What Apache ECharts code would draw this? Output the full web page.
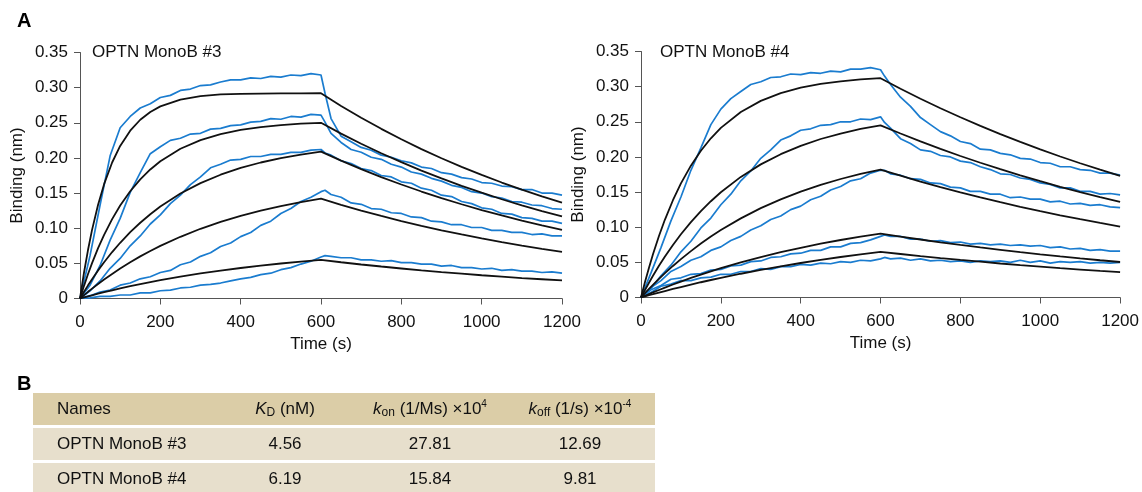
<!DOCTYPE html>
<html>
<head>
<meta charset="utf-8">
<script src="https://cdn.jsdelivr.net/npm/echarts@6/dist/echarts.min.js"></script>
<style>
  html, body { margin: 0; padding: 0; background: #fff; }
  #chart { width: 1142px; height: 492px; }
</style>
</head>
<body>
<div id="chart"></div>
<script>
// time points (s) for the fitted curves and for the measured traces
var fitT = [0,10,20,30,45,60,80,100,125,150,175,200,250,300,350,400,450,500,550,600,650,700,750,800,850,900,950,1000,1050,1100,1150,1200];
var measT = [0,25,50,75,100,125,150,175,200,225,250,275,300,325,350,375,400,425,450,475,500,525,550,575,600,610,625,650,675,700,725,750,775,800,825,850,875,900,925,950,975,1000,1025,1050,1075,1100,1125,1150,1175,1200];

// OPTN MonoB #3 - fits (black)
var leftFit1 = [0,0.037,0.0693,0.0976,0.1334,0.1627,0.1935,0.2171,0.2388,0.2543,0.2654,0.2733,0.283,0.2879,0.2904,0.2912,0.2916,0.2918,0.2919,0.292,0.274,0.2572,0.2414,0.2265,0.2126,0.1995,0.1873,0.1758,0.165,0.1548,0.1453,0.1364];
var leftFit2 = [0,0.018,0.0348,0.0503,0.0716,0.0906,0.1129,0.1322,0.1526,0.1695,0.1836,0.1953,0.2131,0.2254,0.2339,0.2398,0.2439,0.2467,0.2487,0.25,0.2346,0.2202,0.2067,0.194,0.182,0.1708,0.1603,0.1505,0.1412,0.1325,0.1244,0.1167];
var leftFit3 = [0,0.0096,0.0187,0.0275,0.04,0.0516,0.0661,0.0793,0.0943,0.1078,0.1199,0.1308,0.1493,0.1641,0.1761,0.1858,0.1935,0.1998,0.2048,0.209,0.1962,0.1841,0.1728,0.1622,0.1522,0.1428,0.1341,0.1258,0.1181,0.1108,0.104,0.0976];
var leftFit4 = [0,0.0048,0.0095,0.0141,0.0207,0.027,0.035,0.0426,0.0515,0.0599,0.0676,0.0748,0.0878,0.0992,0.109,0.1176,0.125,0.1315,0.1371,0.142,0.1333,0.1251,0.1174,0.1102,0.1034,0.097,0.0911,0.0855,0.0802,0.0753,0.0706,0.0663];
var leftFit5 = [0,0.0016,0.0031,0.0046,0.0068,0.009,0.0117,0.0143,0.0175,0.0205,0.0234,0.0261,0.0311,0.0356,0.0397,0.0434,0.0468,0.0498,0.0525,0.055,0.0516,0.0484,0.0455,0.0427,0.04,0.0376,0.0353,0.0331,0.0311,0.0291,0.0274,0.0257];

// OPTN MonoB #3 - measured (blue)
var leftMeas1 = [0,0.061,0.133,0.203,0.243,0.259,0.271,0.277,0.286,0.289,0.296,0.298,0.303,0.304,0.308,0.311,0.311,0.314,0.313,0.316,0.315,0.318,0.317,0.320,0.318,0.292,0.256,0.231,0.223,0.215,0.211,0.204,0.201,0.196,0.193,0.187,0.185,0.179,0.177,0.172,0.170,0.165,0.164,0.160,0.159,0.155,0.155,0.150,0.150,0.147];
var leftMeas2 = [0,0.019,0.047,0.083,0.114,0.151,0.179,0.206,0.216,0.225,0.228,0.234,0.235,0.241,0.242,0.246,0.247,0.251,0.252,0.256,0.255,0.259,0.258,0.262,0.261,0.251,0.235,0.222,0.212,0.208,0.201,0.198,0.191,0.187,0.180,0.177,0.171,0.167,0.161,0.158,0.152,0.150,0.145,0.143,0.138,0.137,0.133,0.132,0.128,0.127];
var leftMeas3 = [0,0.011,0.025,0.043,0.057,0.075,0.089,0.106,0.119,0.135,0.147,0.162,0.173,0.186,0.191,0.197,0.198,0.202,0.202,0.205,0.205,0.208,0.208,0.211,0.212,0.207,0.204,0.196,0.192,0.185,0.182,0.175,0.173,0.166,0.164,0.157,0.154,0.147,0.145,0.138,0.135,0.129,0.127,0.121,0.120,0.115,0.114,0.110,0.110,0.107];
var leftMeas4 = [0,0.004,0.009,0.012,0.019,0.022,0.028,0.031,0.037,0.040,0.048,0.052,0.060,0.065,0.074,0.079,0.088,0.094,0.104,0.110,0.121,0.128,0.138,0.144,0.152,0.154,0.148,0.144,0.136,0.134,0.128,0.127,0.122,0.121,0.116,0.115,0.110,0.109,0.105,0.105,0.101,0.101,0.097,0.097,0.094,0.094,0.091,0.092,0.089,0.089];
var leftMeas5 = [0,0.001,0.003,0.003,0.005,0.005,0.008,0.008,0.011,0.012,0.015,0.016,0.019,0.020,0.022,0.025,0.028,0.030,0.034,0.036,0.041,0.044,0.049,0.053,0.059,0.061,0.060,0.058,0.058,0.055,0.055,0.053,0.054,0.051,0.051,0.049,0.049,0.046,0.047,0.044,0.044,0.042,0.043,0.040,0.041,0.039,0.039,0.037,0.038,0.036];

// OPTN MonoB #4 - fits (black)
var rightFit1 = [0,0.022,0.0424,0.0614,0.0875,0.1109,0.1384,0.1623,0.1876,0.2088,0.2265,0.2413,0.2639,0.2797,0.2907,0.2985,0.3038,0.3076,0.3102,0.312,0.2971,0.2828,0.2693,0.2564,0.2441,0.2324,0.2213,0.2107,0.2006,0.191,0.1819,0.1732];
var rightFit2 = [0,0.0107,0.021,0.0309,0.0451,0.0583,0.0748,0.09,0.1073,0.1229,0.137,0.1497,0.1716,0.1894,0.2039,0.2158,0.2255,0.2333,0.2398,0.245,0.2333,0.2221,0.2115,0.2013,0.1917,0.1825,0.1738,0.1655,0.1575,0.15,0.1428,0.136];
var rightFit3 = [0,0.0062,0.0122,0.018,0.0265,0.0346,0.0449,0.0546,0.066,0.0767,0.0867,0.0959,0.1126,0.1272,0.1397,0.1507,0.1602,0.1686,0.1758,0.182,0.1733,0.165,0.1571,0.1496,0.1424,0.1356,0.1291,0.1229,0.117,0.1114,0.1061,0.101];
var rightFit4 = [0,0.0025,0.0049,0.0072,0.0107,0.0141,0.0185,0.0227,0.0278,0.0326,0.0372,0.0417,0.0499,0.0575,0.0644,0.0707,0.0765,0.0818,0.0866,0.091,0.0866,0.0825,0.0785,0.0748,0.0712,0.0678,0.0645,0.0614,0.0585,0.0557,0.053,0.0505];
var rightFit5 = [0,0.0016,0.0032,0.0047,0.007,0.0092,0.0121,0.0149,0.0184,0.0217,0.0249,0.0279,0.0338,0.0392,0.0443,0.0491,0.0535,0.0576,0.0614,0.065,0.0619,0.0589,0.0561,0.0534,0.0509,0.0484,0.0461,0.0439,0.0418,0.0398,0.0379,0.0361];

// OPTN MonoB #4 - measured (blue)
var rightMeas1 = [0,0.035,0.071,0.109,0.143,0.181,0.213,0.246,0.268,0.283,0.293,0.303,0.307,0.313,0.314,0.318,0.317,0.320,0.319,0.322,0.321,0.325,0.325,0.327,0.324,0.315,0.303,0.285,0.272,0.256,0.246,0.236,0.230,0.222,0.219,0.211,0.210,0.205,0.203,0.198,0.197,0.192,0.191,0.186,0.186,0.182,0.181,0.177,0.177,0.174];
var rightMeas2 = [0,0.013,0.031,0.046,0.065,0.080,0.099,0.113,0.132,0.147,0.166,0.180,0.198,0.210,0.224,0.230,0.238,0.240,0.245,0.246,0.250,0.250,0.254,0.253,0.257,0.249,0.241,0.226,0.219,0.210,0.208,0.202,0.200,0.194,0.192,0.186,0.182,0.176,0.175,0.170,0.168,0.163,0.161,0.156,0.156,0.151,0.151,0.147,0.148,0.146];
var rightMeas3 = [0,0.014,0.024,0.037,0.044,0.053,0.058,0.067,0.072,0.081,0.087,0.096,0.102,0.111,0.116,0.125,0.130,0.139,0.144,0.153,0.158,0.166,0.169,0.177,0.181,0.181,0.176,0.174,0.169,0.168,0.163,0.162,0.157,0.156,0.151,0.151,0.147,0.147,0.142,0.143,0.140,0.140,0.136,0.137,0.133,0.134,0.131,0.132,0.129,0.128];
var rightMeas4 = [0,0.011,0.017,0.026,0.028,0.033,0.034,0.039,0.040,0.045,0.046,0.051,0.052,0.057,0.058,0.062,0.063,0.067,0.067,0.072,0.072,0.077,0.078,0.082,0.087,0.089,0.087,0.087,0.083,0.083,0.080,0.081,0.078,0.079,0.076,0.077,0.075,0.076,0.074,0.075,0.073,0.074,0.071,0.072,0.069,0.070,0.067,0.068,0.066,0.066];
var rightMeas5 = [0,0.007,0.016,0.019,0.024,0.024,0.028,0.029,0.033,0.033,0.037,0.037,0.041,0.040,0.044,0.044,0.047,0.046,0.049,0.048,0.051,0.050,0.053,0.052,0.055,0.057,0.055,0.056,0.053,0.055,0.052,0.053,0.051,0.052,0.050,0.052,0.051,0.052,0.050,0.053,0.050,0.052,0.049,0.051,0.050,0.051,0.049,0.050,0.049,0.050];

var panelTitles = ['OPTN MonoB #3', 'OPTN MonoB #4'];

// table B
var tableHead = ['Names', '{it|K}{sub|D} (nM)', '{it|k}{sub|on} (1/Ms) ×10{sup|4}', '{it|k}{sub|off} (1/s) ×10{sup|-4}'];
var rowNames = ['OPTN MonoB #3', 'OPTN MonoB #4'];
var kdVals = ['4.56', '6.19'];
var konVals = ['27.81', '15.84'];
var koffVals = ['12.69', '9.81'];

var FONT = 'Liberation Sans, Arial, sans-serif';
var BLUE = '#1a7ccf';
var BLACK = '#111';
var AXIS = '#555';

var chart = echarts.init(document.getElementById('chart'));

function pairs(ts, vs) {
  return ts.map(function (t, i) { return [t, vs[i]]; });
}

function line(data, color, width, idx) {
  return {
    type: 'line', data: data, xAxisIndex: idx, yAxisIndex: idx,
    symbol: 'none', silent: true, animation: false,
    lineStyle: { color: color, width: width }
  };
}

function xAx(i) {
  return {
    gridIndex: i, type: 'value', min: 0, max: 1200, interval: 200,
    name: 'Time (s)', nameLocation: 'middle', nameGap: 37,
    nameTextStyle: { fontSize: 17, color: '#111', fontFamily: FONT },
    axisLine: { lineStyle: { color: AXIS, width: 1 } },
    axisTick: { length: 6, lineStyle: { color: AXIS } },
    axisLabel: {
      margin: 15, fontSize: 17, color: '#111', fontFamily: FONT,
      formatter: function (v) { return String(v); }
    },
    splitLine: { show: false }
  };
}

function yAx(i) {
  return {
    gridIndex: i, type: 'value', min: 0, max: 0.35, interval: 0.05,
    name: 'Binding (nm)', nameLocation: 'middle', nameGap: 54,
    nameTextStyle: { fontSize: 17, color: '#111', fontFamily: FONT },
    axisLine: { show: true, lineStyle: { color: AXIS, width: 1 } },
    axisTick: { show: true, length: 6, lineStyle: { color: AXIS } },
    axisLabel: {
      margin: 12, fontSize: 17, color: '#111', fontFamily: FONT,
      formatter: function (v) { return v === 0 ? '0' : v.toFixed(2); }
    },
    splitLine: { show: false }
  };
}

var series = [];
var meas = [[leftMeas1, leftMeas2, leftMeas3, leftMeas4, leftMeas5],
            [rightMeas1, rightMeas2, rightMeas3, rightMeas4, rightMeas5]];
var fits = [[leftFit1, leftFit2, leftFit3, leftFit4, leftFit5],
            [rightFit1, rightFit2, rightFit3, rightFit4, rightFit5]];
[0, 1].forEach(function (p) {
  meas[p].forEach(function (m) { series.push(line(pairs(measT, m), BLUE, 1.7, p)); });
  fits[p].forEach(function (f) { series.push(line(pairs(fitT, f), BLACK, 1.8, p)); });
});

// table B as graphic rects + rich text
var colX = [57, 285, 430, 580];
var rich = {
  it: { fontStyle: 'italic', fontSize: 17, fontFamily: FONT, fill: '#111', lineHeight: 20 },
  sub: { fontSize: 12, fontFamily: FONT, fill: '#111', verticalAlign: 'bottom', lineHeight: 13 },
  sup: { fontSize: 10, fontFamily: FONT, fill: '#111', verticalAlign: 'top', lineHeight: 11 }
};
var graphics = [
  { type: 'text', left: 17, top: 11, style: { text: 'A', font: 'bold 20px ' + FONT, fill: '#000' } },
  { type: 'text', left: 17, top: 374, style: { text: 'B', font: 'bold 20px ' + FONT, fill: '#000' } },
  { type: 'text', left: 92, top: 44, style: { text: panelTitles[0], font: '17px ' + FONT, fill: '#111' } },
  { type: 'text', left: 660, top: 44, style: { text: panelTitles[1], font: '17px ' + FONT, fill: '#111' } },
  { type: 'rect', shape: { x: 33, y: 393, width: 622, height: 32 }, style: { fill: '#dbcda7' } }
];
tableHead.forEach(function (h, c) {
  graphics.push({
    type: 'text', x: colX[c], y: 409,
    style: { text: h, rich: rich, font: '17px ' + FONT, fill: '#111',
             align: c === 0 ? 'left' : 'center', verticalAlign: 'middle' }
  });
});
rowNames.forEach(function (n, r) {
  var y0 = 428 + r * 35;
  graphics.push({ type: 'rect', shape: { x: 33, y: y0, width: 622, height: 32 }, style: { fill: '#e7dfcc' } });
  [n, kdVals[r], konVals[r], koffVals[r]].forEach(function (s, c) {
    graphics.push({
      type: 'text', x: colX[c], y: y0 + 16,
      style: { text: s, font: '17px ' + FONT, fill: '#111',
               align: c === 0 ? 'left' : 'center', verticalAlign: 'middle' }
    });
  });
});

chart.setOption({
  animation: false,
  backgroundColor: '#fff',
  grid: [
    { left: 80, top: 52.5, width: 482, height: 246 },
    { left: 641, top: 51.5, width: 484, height: 246 }
  ],
  xAxis: [xAx(0), xAx(1)],
  yAxis: [yAx(0), yAx(1)],
  series: series,
  graphic: graphics
});
</script>
</body>
</html>
